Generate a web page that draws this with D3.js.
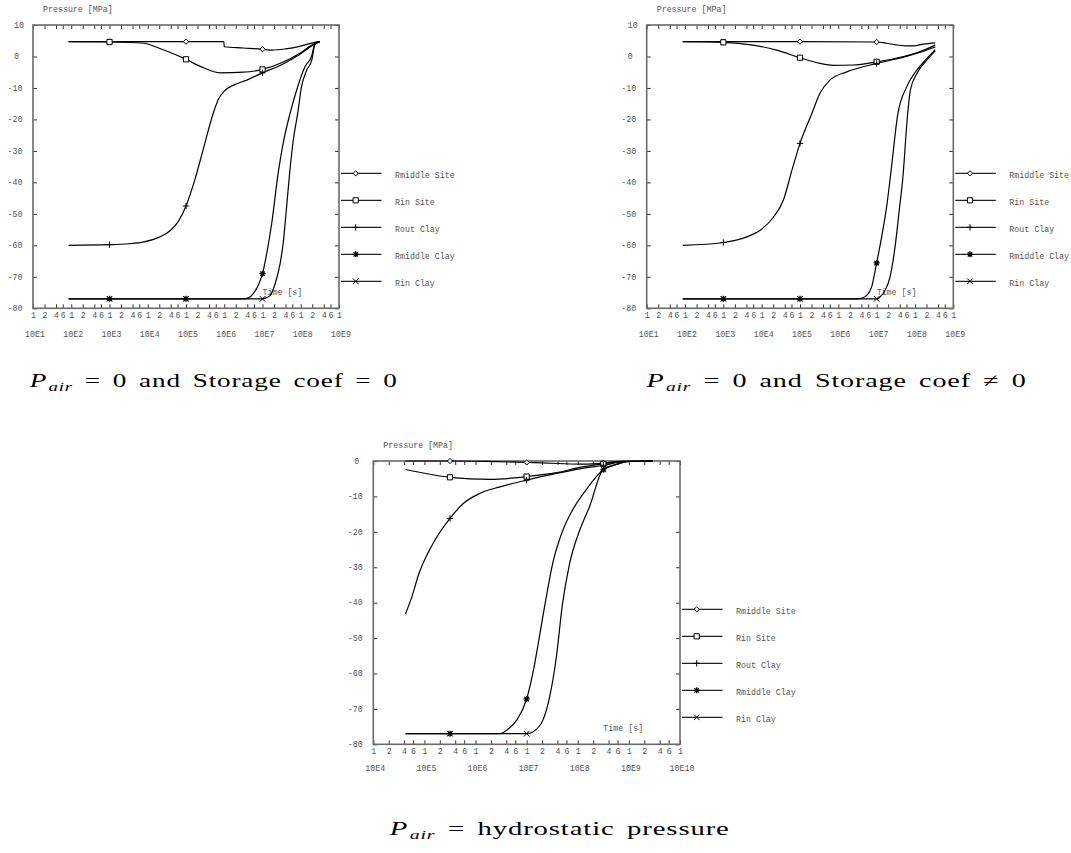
<!DOCTYPE html>
<html>
<head>
<meta charset="utf-8">
<script src="https://cdn.jsdelivr.net/npm/d3@7"></script>
<style>
  body { margin: 0; background: #fff; }
  .mono { font-family: "Liberation Mono", "DejaVu Sans Mono", monospace; font-size: 8.3px; fill: #555; }
  .cap { font-family: "Liberation Serif", "DejaVu Serif", serif; font-size: 19.5px; fill: #000; word-spacing: 3px; letter-spacing: 0.6px; }
</style>
</head>
<body>
<svg id="fig" width="1071" height="853"></svg>
<script>
//======
// Data
//======
// every point is [log10(time in s), pressure in MPa]

const seriesNames = ["Rmiddle Site", "Rin Site", "Rout Clay", "Rmiddle Clay", "Rin Clay"];

// axis ticks
const mantissas = [1, 2, 4, 6];
const decadesTop = [1, 2, 3, 4, 5, 6, 7, 8, 9];
const decadesBottom = [4, 5, 6, 7, 8, 9, 10];
const yTicksTop = [10, 0, -10, -20, -30, -40, -50, -60, -70, -80];
const yTicksBottom = [0, -10, -20, -30, -40, -50, -60, -70, -80];

// times (log10) where the symbols sit
const marksTop = [3, 5, 7];
const marksBottom = [5.5, 7, 8.5];

// panel A : P_air = 0, storage coef = 0
const aRmiddleSite = [[1.93, 4.7], [3, 4.7], [5, 4.7], [5.99, 4.7], [6.0, 3.1], [6.5, 2.7], [7, 2.3], [7.25, 2.0], [7.6, 2.4], [8.0, 3.3], [8.37, 4.5], [8.5, 4.7]];
const aRinSite = [[1.93, 4.7], [3, 4.6], [3.9, 4.2], [4.3, 2.6], [4.7, 0.7], [5, -0.9], [5.4, -3.3], [5.9, -5.2], [6.5, -5.0], [7, -4.1], [7.5, -2.0], [8.0, 1.2], [8.37, 4.2], [8.5, 4.7]];
const aRoutClay = [[1.93, -60], [3, -59.8], [3.5, -59.5], [3.9, -58.9], [4.3, -57.4], [4.6, -55.2], [4.8, -52.4], [5, -47.5], [5.24, -38.8], [5.45, -29.5], [5.71, -18.1], [5.85, -13.5], [6.0, -11], [6.24, -9.1], [6.59, -7.5], [7, -5.2], [7.5, -2.6], [8, 0.9], [8.37, 4.0], [8.5, 4.7]];
const aRmiddleClay = [[1.93, -77], [3, -77], [5, -77], [6.5, -77], [6.63, -76.7], [6.76, -75.3], [6.89, -72.7], [7, -69], [7.11, -62.6], [7.24, -53.1], [7.41, -37], [7.55, -27], [7.72, -18.1], [7.92, -9.6], [8.11, -3.3], [8.29, 0.3], [8.37, 4.0], [8.5, 4.7]];
const aRinClay = [[1.93, -77], [3, -77], [5, -77], [7, -77], [7.1, -76.6], [7.2, -75.9], [7.33, -72.2], [7.46, -65.8], [7.54, -59.4], [7.63, -47.8], [7.71, -37], [7.8, -27], [7.92, -18.1], [8.02, -9.6], [8.15, -4.5], [8.29, -1.1], [8.37, 3.8], [8.5, 4.7]];

// panel B : P_air = 0, storage coef != 0
const bRmiddleSite = [[1.94, 4.7], [3, 4.7], [5, 4.7], [7, 4.6], [7.26, 4.2], [7.5, 3.7], [7.75, 3.4], [7.96, 3.4], [8.22, 3.9], [8.53, 4.3]];
const bRinSite = [[1.94, 4.7], [3, 4.5], [3.78, 3.6], [4.39, 2.0], [5, -0.4], [5.52, -2.2], [5.87, -2.8], [6.39, -2.7], [7, -1.7], [7.7, 0.0], [8.1, 1.4], [8.53, 3.6]];
const bRoutClay = [[1.94, -60], [3, -59.1], [3.61, -57.3], [3.96, -55.2], [4.31, -51], [4.57, -45.5], [4.79, -36.1], [5, -27.6], [5.31, -18.1], [5.52, -11.7], [5.78, -7.5], [6.22, -4.9], [7, -2.2], [7.7, -0.2], [8.1, 1.2], [8.53, 3.0]];
const bRmiddleClay = [[1.94, -77], [3, -77], [5, -77], [6.5, -77], [6.6, -76.8], [6.74, -75.9], [6.87, -73.2], [7, -65.6], [7.13, -57.3], [7.26, -47.8], [7.37, -37], [7.55, -18.5], [7.79, -9.5], [8.05, -4.3], [8.31, -0.6], [8.53, 2.2]];
const bRinClay = [[1.94, -77], [3, -77], [5, -77], [7, -77], [7.09, -76.4], [7.22, -74.3], [7.35, -70], [7.48, -60.5], [7.59, -48.8], [7.68, -39], [7.81, -18.1], [7.88, -10.7], [8.05, -5.4], [8.31, -1.1], [8.53, 1.8]];

// panel C : P_air = hydrostatic pressure
const cRmiddleSite = [[4.63, 0], [5.5, 0], [6.2, -0.1], [7, -0.4], [7.6, -0.7], [8.1, -0.9], [8.5, -0.6], [8.8, -0.1], [9.47, 0]];
const cRinSite = [[4.63, -2.4], [5.5, -4.6], [6.28, -5.2], [7, -4.4], [7.58, -3.3], [8.04, -1.8], [8.5, -0.8], [8.88, -0.1], [9.47, 0]];
const cRoutClay = [[4.63, -43.2], [4.75, -38.5], [4.9, -31.5], [5.16, -23.5], [5.5, -16.2], [5.76, -12], [6.09, -9.1], [6.48, -7.3], [7, -5.4], [7.58, -3.5], [8.04, -2.2], [8.5, -1.2], [8.9, -0.2], [9.47, 0]];
const cRmiddleClay = [[4.63, -77], [5.5, -77], [6.48, -77], [6.61, -76], [6.81, -73.1], [7, -67.2], [7.12, -60], [7.25, -49.6], [7.37, -39.5], [7.51, -28.9], [7.71, -19.5], [7.9, -13.8], [8.16, -8.2], [8.5, -2.5], [8.75, -1], [9.0, -0.1], [9.47, 0]];
const cRinClay = [[4.63, -77], [5.5, -77], [7, -77], [7.12, -76.5], [7.32, -73.1], [7.45, -66.6], [7.58, -55.5], [7.7, -40.5], [7.84, -29], [8.04, -19.5], [8.23, -12.9], [8.5, -2.3], [8.75, -1], [9.0, -0.1], [9.47, 0]];

//========
// Layout
//========

const panels = [
  { left: 33, right: 339, top: 25, bottom: 308.3, decades: decadesTop, yTicks: yTicksTop, marks: marksTop,
    series: [aRmiddleSite, aRinSite, aRoutClay, aRmiddleClay, aRinClay], decY: 29,
    caption: { x: 28.3, w: 369.7, y: 387, rest: " = 0 and Storage coef = 0" } },
  { left: 646.7, right: 953.3, top: 25, bottom: 308.3, decades: decadesTop, yTicks: yTicksTop, marks: marksTop,
    series: [bRmiddleSite, bRinSite, bRoutClay, bRmiddleClay, bRinClay], decY: 29,
    caption: { x: 645, w: 381.7, y: 387, rest: " = 0 and Storage coef \u2260 0" } },
  { left: 373.3, right: 680, top: 461, bottom: 744.3, decades: decadesBottom, yTicks: yTicksBottom, marks: marksBottom,
    series: [cRmiddleSite, cRinSite, cRoutClay, cRmiddleClay, cRinClay], decY: 27,
    caption: { x: 388.3, w: 341.7, y: 835, rest: " = hydrostatic pressure" } }
];

const svg = d3.select("#fig");

// marker shapes, centred on 0,0
const markerKinds = ["diamond", "square", "plus", "asterisk", "times"];
function markerPath(kind) {
  switch (kind) {
    case "diamond": return "M0,-2.6L2.6,0L0,2.6L-2.6,0Z";
    case "square": return "M-2.6,-2.6h5.2v5.2h-5.2Z";
    case "plus": return "M-3.2,0H3.2M0,-3.2V3.2";
    case "asterisk": return "M-3,0H3M0,-3V3M-2.2,-2.2L2.2,2.2M-2.2,2.2L2.2,-2.2";
    default: return "M-2.8,-2.8L2.8,2.8M-2.8,2.8L2.8,-2.8";
  }
}
function drawMarker(g, kind, px, py) {
  const filled = kind === "diamond" || kind === "square";
  g.append("path")
    .attr("d", markerPath(kind))
    .attr("transform", `translate(${px},${py})`)
    .attr("fill", filled ? "#fff" : "none")
    .attr("stroke", "#000")
    .attr("stroke-width", kind === "asterisk" ? 1.3 : 1);
}

function drawPanel(p) {
  const g = svg.append("g");
  const d0 = p.decades[0], d1 = p.decades[p.decades.length - 1];
  const x = d3.scaleLog().domain([10 ** d0, 10 ** d1]).range([p.left, p.right]);
  const y = d3.scaleLinear().domain([d3.min(p.yTicks), d3.max(p.yTicks)]).range([p.bottom, p.top]);

  // tick values 1 2 4 6 per decade, and a last 1
  const xVals = [];
  p.decades.forEach((k, i) => {
    if (i < p.decades.length - 1) mantissas.forEach(m => xVals.push(m * 10 ** k));
    else xVals.push(10 ** k);
  });
  const mant = d => Math.round(d / 10 ** Math.floor(Math.log10(d) + 1e-9));

  const styleAxis = a => {
    a.select(".domain").remove();
    a.attr("font-size", null).attr("font-family", null);
    a.selectAll("line").attr("stroke", "#333");
    a.selectAll("text").attr("class", "mono").attr("fill", null);
  };

  g.append("g").attr("transform", `translate(0,${p.bottom})`)
    .call(d3.axisBottom(x).tickValues(xVals).tickFormat(mant).tickSize(-4).tickPadding(3.9))
    .call(styleAxis);
  g.append("g").attr("transform", `translate(0,${p.top})`)
    .call(d3.axisTop(x).tickValues(xVals).tickFormat("").tickSize(-4))
    .call(styleAxis);
  g.append("g").attr("transform", `translate(${p.left},0)`)
    .call(d3.axisLeft(y).tickValues(p.yTicks).tickFormat("").tickSize(-4))
    .call(styleAxis);
  g.append("g").attr("transform", `translate(${p.right},0)`)
    .call(d3.axisRight(y).tickValues(p.yTicks).tickFormat("").tickSize(-4))
    .call(styleAxis);

  // y labels: digits start at a fixed column, minus sign hangs left
  g.selectAll(".ylab").data(p.yTicks).enter().append("text")
    .attr("class", "mono")
    .attr("x", d => p.left - 19 - (d < 0 ? 6.5 : 0))
    .attr("y", d => y(d) + 2.8)
    .text(d => d);

  // decade labels
  g.selectAll(".dec").data(p.decades).enter().append("text")
    .attr("class", "mono")
    .attr("text-anchor", "middle")
    .attr("x", d => x(10 ** d) + 2)
    .attr("y", p.bottom + p.decY)
    .text(d => "10E" + d);

  // frame
  g.append("rect")
    .attr("x", p.left).attr("y", p.top)
    .attr("width", p.right - p.left).attr("height", p.bottom - p.top)
    .attr("fill", "none").attr("stroke", "#6a6a6a").attr("stroke-width", 1.6);

  g.append("text").attr("class", "mono").attr("x", p.left + 10).attr("y", p.top - 13).text("Pressure [MPa]");
  g.append("text").attr("class", "mono").attr("x", p.left + 0.75 * (p.right - p.left)).attr("y", p.bottom - 13).text("Time [s]");

  const line = d3.line()
    .x(d => x(10 ** d[0]))
    .y(d => y(d[1]))
    .curve(d3.curveMonotoneX);

  p.series.forEach(s => {
    g.append("path").attr("d", line(s))
      .attr("fill", "none").attr("stroke", "#000").attr("stroke-width", 1.2)
      .attr("stroke-linejoin", "round");
  });
  p.series.forEach((s, i) => {
    s.filter(d => p.marks.includes(d[0])).forEach(d => {
      drawMarker(g, markerKinds[i], x(10 ** d[0]), y(d[1]));
    });
  });

  // legend, outside the right edge
  seriesNames.forEach((name, i) => {
    const ly = p.bottom - 27 * (5 - i);
    g.append("line")
      .attr("x1", p.right + 2).attr("x2", p.right + 42.5)
      .attr("y1", ly).attr("y2", ly)
      .attr("stroke", "#222").attr("stroke-width", 1.3);
    drawMarker(g, markerKinds[i], p.right + 16.7, ly);
    g.append("text").attr("class", "mono").attr("x", p.right + 56).attr("y", ly + 4.8).text(name);
  });

  // caption, stretched to the width it has in the figure
  const c = p.caption;
  const cg = svg.append("g");
  const t = cg.append("text").attr("class", "cap");
  t.append("tspan").attr("font-style", "italic").text("P");
  t.append("tspan").attr("font-style", "italic").attr("font-size", "13.5px").attr("dx", 1).attr("dy", 3.5).text("air");
  t.append("tspan").attr("dy", -3.5).text(c.rest);
  const bb = t.node().getBBox();
  cg.attr("transform", `translate(${c.x - bb.x * (c.w / bb.width)},${c.y}) scale(${c.w / bb.width},1)`);
}

panels.forEach(drawPanel);
</script>
</body>
</html>
